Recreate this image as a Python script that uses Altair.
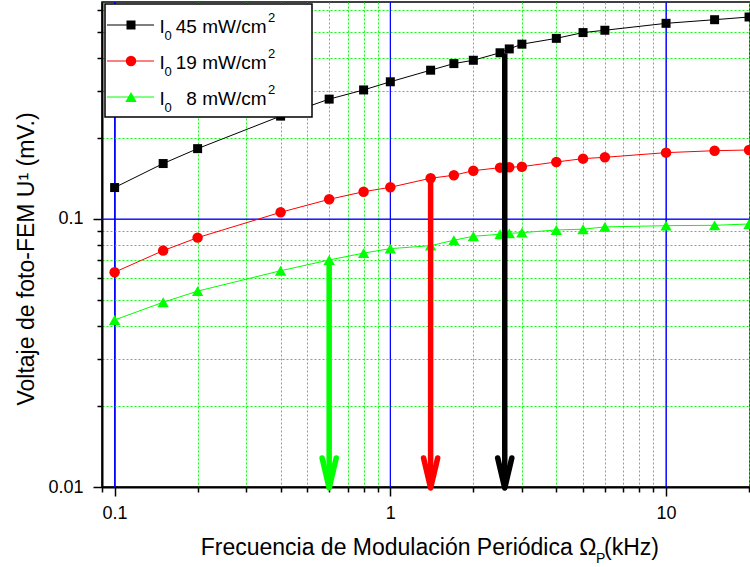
import altair as alt
import pandas as pd

# ---------------- data ----------------
freq = [0.1, 0.15, 0.2, 0.4, 0.6, 0.8, 1, 1.4, 1.7, 2, 2.5, 2.7, 3, 4, 5, 6, 10, 15, 20]
v_45 = [0.131, 0.161, 0.183, 0.242, 0.280, 0.303, 0.325, 0.359, 0.380, 0.391,
        0.417, 0.431, 0.449, 0.472, 0.496, 0.506, 0.537, 0.554, 0.567]
v_19 = [0.0633, 0.0762, 0.0852, 0.1059, 0.1184, 0.1264, 0.1313, 0.1419, 0.1456, 0.1514,
        0.1554, 0.1560, 0.1567, 0.1632, 0.1679, 0.1699, 0.1768, 0.1798, 0.1809]
v_8 = [0.0420, 0.0489, 0.0538, 0.0641, 0.0703, 0.0746, 0.0775, 0.0795, 0.0833, 0.0862,
       0.0877, 0.0884, 0.0889, 0.0910, 0.0916, 0.0934, 0.0944, 0.0947, 0.0958]

series_values = [v_45, v_19, v_8]
series_colors = ["#000000", "#ff0000", "#00ff00"]
series_shapes = ["square", "circle", "triangle-up"]
series_sizes = [81, 110, 130]
legend_labels = ["45 mW/cm", "19 mW/cm", "8 mW/cm"]

arrow_freq = [0.6, 1.4, 2.6]
arrow_top = [0.0703, 0.1419, 0.415]
arrow_colors = ["#00ff00", "#ff0000", "#000000"]

x_ticks = [0.09, 0.1, 0.2, 0.3, 0.4, 0.5, 0.6, 0.7, 0.8, 0.9,
           1, 2, 3, 4, 5, 6, 7, 8, 9, 10, 20]
y_ticks = [0.01, 0.02, 0.03, 0.04, 0.05, 0.06, 0.07, 0.08, 0.09,
           0.1, 0.2, 0.3, 0.4, 0.5, 0.6]
x_major = [0.1, 1, 10]
y_major = [0.1]
x_domain = [0.09, 20.16]
y_domain = [0.01, 0.645]

FONT = "Liberation Sans"
MAJOR = "abs(log(datum.value)/LN10 - round(log(datum.value)/LN10)) < 0.001"


def make_axis(values, padding):
    return alt.Axis(
        values=values,
        title=None,
        labelExpr=f"({MAJOR}) ? format(datum.value, '~g') : ''",
        labelFont=FONT,
        labelFontSize=18,
        labelColor="black",
        labelPadding=padding,
        labelOverlap=False,
        labelFlush=False,
        labelBound=False,
        tickColor="black",
        tickWidth=1.5,
        tickSize={"condition": {"test": MAJOR, "value": 9}, "value": 5},
        domainColor="black",
        domainWidth=2,
        grid=True,
        gridColor={"condition": {"test": MAJOR, "value": "#0000ff"}, "value": "#00ff00"},
        gridDash={"condition": {"test": MAJOR, "value": [1, 0]}, "value": [2, 2]},
        gridWidth=1,
        gridOpacity=1,
    )


xs = alt.Scale(type="log", domain=x_domain, nice=False)
ys = alt.Scale(type="log", domain=y_domain, nice=False)
x_axis = make_axis(x_ticks, 8)
y_axis = make_axis(y_ticks, 10)


def X(field):
    return alt.X(f"{field}:Q", scale=xs, axis=x_axis)


def Y(field):
    return alt.Y(f"{field}:Q", scale=ys, axis=y_axis)


layers = []

# major grid lines (solid blue) drawn explicitly from the major tick lists
layers.append(alt.Chart(pd.DataFrame({"f": x_major})).mark_rule(
    color="#0000ff", strokeWidth=1.2).encode(x=X("f")))
layers.append(alt.Chart(pd.DataFrame({"v": y_major})).mark_rule(
    color="#0000ff", strokeWidth=1.2).encode(y=Y("v")))

for vals, col, shp, sz in zip(series_values, series_colors, series_shapes, series_sizes):
    df = pd.DataFrame({"f": freq, "v": vals})
    base = alt.Chart(df)
    layers.append(base.mark_line(color=col, strokeWidth=1).encode(x=X("f"), y=Y("v")))
    layers.append(base.mark_point(shape=shp, filled=True, size=sz, color=col, opacity=1,
                                  strokeWidth=0).encode(x=X("f"), y=Y("v")))

arrows = pd.DataFrame({"f": arrow_freq, "v": arrow_top,
                       "b": [y_domain[0]] * len(arrow_freq), "c": arrow_colors})
layers.append(alt.Chart(arrows).mark_rule(strokeWidth=5.5).encode(
    x=X("f"), y=Y("v"), y2=alt.Y2("b"), color=alt.Color("c:N", scale=None)))
layers.append(alt.Chart(arrows).mark_point(
    shape="M-0.47,-1L0,1L0.47,-1", filled=False, size=900, strokeWidth=5.5,
    strokeJoin="round", strokeCap="round", opacity=1, yOffset=-14).encode(
    x=X("f"), y=Y("b"), color=alt.Color("c:N", scale=None)))

# ---------------- legend (drawn manually) ----------------
dummy = alt.Chart(pd.DataFrame({"d": [0]}))
layers.append(dummy.mark_rect(fill="white", stroke="black", strokeWidth=1.5).encode(
    x=alt.value(3), x2=alt.value(210), y=alt.value(2), y2=alt.value(115)))
row_y = [23, 59, 95]
for ry, col, shp, sz, lab in zip(row_y, series_colors, series_shapes, series_sizes, legend_labels):
    layers.append(dummy.mark_rule(color=col, strokeWidth=1).encode(
        x=alt.value(5), x2=alt.value(52), y=alt.value(ry)))
    layers.append(dummy.mark_point(shape=shp, filled=True, size=sz, color=col, opacity=1,
                                   strokeWidth=0).encode(x=alt.value(29), y=alt.value(ry)))
    layers.append(dummy.mark_text(align="left", baseline="alphabetic", font=FONT,
                                  fontSize=19, color="black").encode(
        x=alt.value(57.5), y=alt.value(ry + 8), text=alt.value("I")))
    layers.append(dummy.mark_text(align="left", baseline="alphabetic", font=FONT,
                                  fontSize=13, color="black").encode(
        x=alt.value(62.5), y=alt.value(ry + 15), text=alt.value("0")))
    layers.append(dummy.mark_text(align="right", baseline="alphabetic", font=FONT,
                                  fontSize=19, color="black").encode(
        x=alt.value(164.5), y=alt.value(ry + 8), text=alt.value(lab)))
    layers.append(dummy.mark_text(align="left", baseline="alphabetic", font=FONT,
                                  fontSize=13, color="black").encode(
        x=alt.value(166), y=alt.value(ry - 3), text=alt.value("2")))

# ---------------- axis titles ----------------
layers.append(dummy.mark_text(align="left", baseline="alphabetic", font=FONT,
                              fontSize=23, color="black").encode(
    x=alt.value(98.7), y=alt.value(553),
    text=alt.value("Frecuencia de Modulación Periódica Ω")))
layers.append(dummy.mark_text(align="left", baseline="alphabetic", font=FONT,
                              fontSize=14, color="black").encode(
    x=alt.value(494), y=alt.value(561), text=alt.value("P")))
layers.append(dummy.mark_text(align="left", baseline="alphabetic", font=FONT,
                              fontSize=23, color="black").encode(
    x=alt.value(502), y=alt.value(553), text=alt.value("(kHz)")))
layers.append(dummy.mark_text(align="center", baseline="alphabetic", font=FONT,
                              fontSize=23, color="black", angle=270).encode(
    x=alt.value(-68), y=alt.value(257), text=alt.value("Voltaje de foto-FEM U¹   (mV.)")))

chart = alt.layer(*layers).properties(
    width=648, height=485,
    padding={"left": 102, "top": 2, "right": 0, "bottom": 80},
    autosize=alt.AutoSizeParams(type="none"),
    background="white",
).configure_view(stroke="black", strokeWidth=1.5)

chart.save("out.html", embed_options={"renderer": "svg", "actions": False})
